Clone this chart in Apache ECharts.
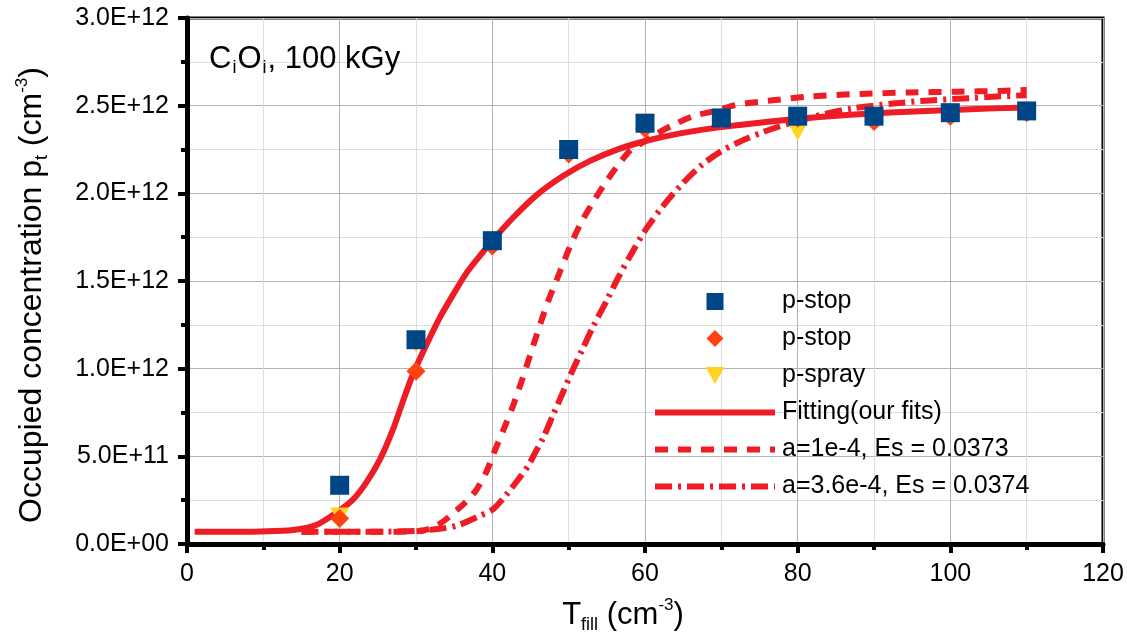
<!DOCTYPE html>
<html><head><meta charset="utf-8">
<script src="https://cdn.jsdelivr.net/npm/echarts@6/dist/echarts.min.js"></script>
<style>html,body{margin:0;padding:0;background:#fff}#c{width:1127px;height:639px}</style>
</head><body><div id="c"></div>
<script>
// ---- data ----
const yTickLabels = ['0.0E+00','5.0E+11','1.0E+12','1.5E+12','2.0E+12','2.5E+12','3.0E+12'];
const tfill = [20, 30, 40, 50, 60, 70, 80, 90, 100, 110];
const pStopA = [3.35e11, 1.165e12, 1.73e12, 2.25e12, 2.40e12, 2.43e12, 2.44e12, 2.44e12, 2.46e12, 2.47e12];
const pStopB = [1.45e11, 0.985e12, 1.70e12, 2.225e12, 2.37e12, 2.42e12, 2.43e12, 2.41e12, 2.44e12, 2.46e12];
const pSpray = [1.6e11, 1.14e12, 1.72e12, 2.24e12, 2.405e12, 2.42e12, 2.35e12, 2.43e12, 2.45e12, 2.46e12];

const fitX = [1, 5, 9.6, 13.9, 17, 19.6, 21.8, 23.5, 25.3, 27, 28.3, 29.6, 31.4, 33.1, 34.9, 36.6, 38.4, 40.1, 42.8, 45.8, 49.3, 52.8, 56.7, 60.2, 64.6, 69, 72, 76.4, 82.9, 89.5, 96, 102.6, 110];
const fitY = [0.07e12, 0.07e12, 0.072e12, 0.08e12, 0.11e12, 0.18e12, 0.256e12, 0.351e12, 0.484e12, 0.655e12, 0.816e12, 0.968e12, 1.14e12, 1.29e12, 1.425e12, 1.545e12, 1.645e12, 1.735e12, 1.865e12, 1.99e12, 2.10e12, 2.185e12, 2.255e12, 2.30e12, 2.342e12, 2.372e12, 2.388e12, 2.41e12, 2.435e12, 2.455e12, 2.468e12, 2.48e12, 2.49e12];

const aX = [15, 20, 25, 30, 32.7, 35.5, 37.7, 39.2, 40.3, 41.6, 42.7, 43.8, 44.7, 45.7, 46.7, 47.4, 48.8, 50.1, 51.5, 53.0, 54.5, 56.2, 58.2, 59.7, 61.1, 63.7, 66.3, 68.9, 72, 76.4, 81.6, 88.2, 94.7, 100.8, 106.5, 110];
const aY = [0.07e12, 0.07e12, 0.07e12, 0.072e12, 0.104e12, 0.199e12, 0.296e12, 0.41e12, 0.53e12, 0.666e12, 0.787e12, 0.924e12, 1.043e12, 1.178e12, 1.309e12, 1.395e12, 1.547e12, 1.689e12, 1.822e12, 1.936e12, 2.04e12, 2.145e12, 2.25e12, 2.29e12, 2.33e12, 2.39e12, 2.44e12, 2.467e12, 2.505e12, 2.529e12, 2.552e12, 2.567e12, 2.575e12, 2.58e12, 2.584e12, 2.59e12];

const bX = [15, 20, 25, 30, 32.7, 35.3, 38.4, 40.1, 41.9, 43.6, 44.7, 45.6, 46.6, 48, 49.3, 50.4, 51.9, 53.2, 55, 56.5, 58.4, 60.2, 62.4, 65, 67.4, 69.8, 72.2, 75.5, 79, 83.3, 87.3, 92.5, 97.3, 102.6, 106.1, 110];
const bY = [0.07e12, 0.07e12, 0.07e12, 0.075e12, 0.085e12, 0.104e12, 0.161e12, 0.199e12, 0.285e12, 0.38e12, 0.446e12, 0.52e12, 0.60e12, 0.74e12, 0.87e12, 0.98e12, 1.12e12, 1.24e12, 1.39e12, 1.52e12, 1.67e12, 1.80e12, 1.93e12, 2.06e12, 2.16e12, 2.235e12, 2.29e12, 2.35e12, 2.40e12, 2.45e12, 2.485e12, 2.512e12, 2.53e12, 2.543e12, 2.552e12, 2.56e12];

// ---- build ----
const F = 'Liberation Sans';
const RED = '#ee1c25';
const zip = (xs, ys) => xs.map((x, i) => [x, ys[i]]);
const TRI = 'path://M0,0 L10,0 L5,9 Z';
const SQR = 'path://M0,0 L10,0 L10,10 L0,10 Z';
const DIA = 'path://M5,0 L10,5 L5,10 L0,5 Z';
const lineLegend = {width: 6};
const hideSym = {opacity: 0};

const chart = echarts.init(document.getElementById('c'), null, {renderer: 'canvas'});
chart.setOption({
  animation: false,
  backgroundColor: '#fff',
  title: {
    text: '{n|C}{s|i}{n|O}{s|i}{n|, 100 kGy}',
    left: 204, top: 36,
    textStyle: {
      fontWeight: 'normal',
      rich: {
        n: {fontFamily: F, fontSize: 31, fontWeight: 'normal', color: '#000'},
        s: {fontFamily: F, fontSize: 18, fontWeight: 'normal', color: '#000', padding: [18, 1, 0, 1]}
      }
    }
  },
  grid: {left: 187, right: 24, top: 18, bottom: 94, show: true, borderColor: '#000', borderWidth: 3, backgroundColor: 'transparent'},
  legend: {
    orient: 'vertical', left: 652, top: 289, padding: 0,
    itemWidth: 120, itemHeight: 17, itemGap: 12, symbolKeepAspect: true,
    textStyle: {fontFamily: F, fontSize: 25, color: '#000', padding: [0, 0, 0, 2]},
    data: [
      {name: 'p-stop'},
      {name: 'p-stop '},
      {name: 'p-spray'},
      {name: 'Fitting(our fits)', lineStyle: lineLegend, itemStyle: hideSym},
      {name: 'a=1e-4, Es = 0.0373', lineStyle: lineLegend, itemStyle: hideSym},
      {name: 'a=3.6e-4, Es = 0.0374', lineStyle: lineLegend, itemStyle: hideSym}
    ]
  },
  xAxis: {
    type: 'value', min: 0, max: 120, interval: 20,
    name: '{n|T}{s|fill}{n| (cm}{p|-3}{n|)}',
    nameLocation: 'middle', nameGap: 52,
    nameTextStyle: {
      padding: [0, 44, 0, 0],
      rich: {
        n: {fontFamily: F, fontSize: 31, color: '#000'},
        s: {fontFamily: F, fontSize: 18, color: '#000', padding: [20, 0, 0, 0]},
        p: {fontFamily: F, fontSize: 17, color: '#000', padding: [0, 0, 20, 0]}
      }
    },
    axisLine: {show: true, onZero: false, lineStyle: {color: '#000', width: 5}},
    axisTick: {show: true, length: 9, lineStyle: {color: '#000', width: 4}},
    minorTick: {show: true, splitNumber: 2, length: 6, lineStyle: {color: '#000', width: 4}},
    axisLabel: {fontFamily: F, fontSize: 25, color: '#000', margin: 18},
    splitLine: {show: true, lineStyle: {color: '#b3b3b3', width: 1}},
    minorSplitLine: {show: true, lineStyle: {color: '#dddddd', width: 1}}
  },
  yAxis: {
    type: 'value', min: 0, max: 3e12, interval: 5e11,
    name: '{n|Occupied concentration p}{s|t}{n| (cm}{p|-3}{n|)}',
    nameLocation: 'middle', nameGap: 136, nameRotate: 90,
    nameTextStyle: {
      padding: [0, 28, 0, 0],
      rich: {
        n: {fontFamily: F, fontSize: 32, color: '#000'},
        s: {fontFamily: F, fontSize: 18, color: '#000', padding: [20, 0, 0, 0]},
        p: {fontFamily: F, fontSize: 17, color: '#000', padding: [0, 0, 20, 0]}
      }
    },
    axisLine: {show: true, onZero: false, lineStyle: {color: '#000', width: 5}},
    axisTick: {show: true, length: 9, lineStyle: {color: '#000', width: 4}},
    minorTick: {show: true, splitNumber: 2, length: 6, lineStyle: {color: '#000', width: 4}},
    axisLabel: {fontFamily: F, fontSize: 25, color: '#000', margin: 18,
      formatter: v => yTickLabels[Math.round(v / 5e11)]},
    splitLine: {show: true, lineStyle: {color: '#b3b3b3', width: 1}},
    minorSplitLine: {show: true, lineStyle: {color: '#dddddd', width: 1}}
  },
  series: [
    {name: 'Fitting(our fits)', type: 'line', z: 2, data: zip(fitX, fitY), smooth: 0.3, symbol: 'none',
      lineStyle: {color: RED, width: 6}, itemStyle: {color: RED}},
    {name: 'a=1e-4, Es = 0.0373', type: 'line', z: 2, data: zip(aX, aY), smooth: 0.3, symbol: 'none',
      lineStyle: {color: RED, width: 6, type: [13, 10]}, itemStyle: {color: RED}},
    {name: 'a=3.6e-4, Es = 0.0374', type: 'line', z: 2, data: zip(bX, bY), smooth: 0.3, symbol: 'none',
      lineStyle: {color: RED, width: 6, type: [17, 6, 3, 6]}, itemStyle: {color: RED}},
    {name: 'p-spray', type: 'scatter', z: 3, symbol: TRI, symbolSize: [19, 17],
      data: zip(tfill, pSpray), itemStyle: {color: '#ffd320', opacity: 1}},
    {name: 'p-stop ', type: 'scatter', z: 4, symbol: DIA, symbolSize: 19,
      data: zip(tfill, pStopB), itemStyle: {color: '#ff420e', opacity: 1}},
    {name: 'p-stop', type: 'scatter', z: 5, symbol: SQR, symbolSize: 19,
      data: zip(tfill, pStopA), itemStyle: {color: '#004586', opacity: 1}}
  ]
});
</script></body></html>
